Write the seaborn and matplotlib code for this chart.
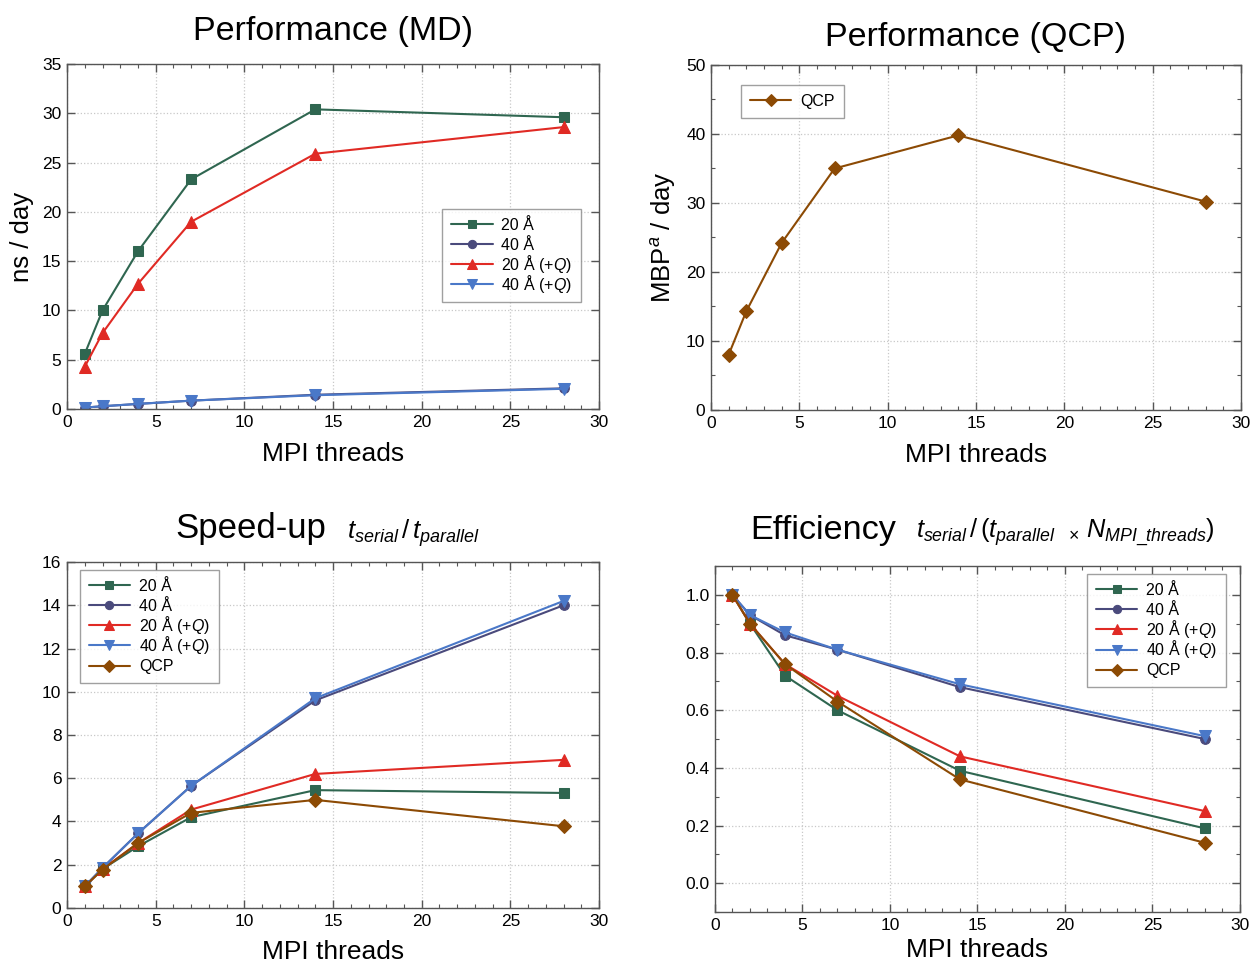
import matplotlib
matplotlib.use("Agg")
import types
import matplotlib.pyplot as plt
import seaborn as sns
import numpy as np
from matplotlib.ticker import MultipleLocator, FormatStrFormatter
from matplotlib.offsetbox import TextArea, OffsetBox
from matplotlib.transforms import Bbox

threads = [1, 2, 4, 7, 14, 28]

# Performance (MD), ns/day
md_20 = [5.6, 10.0, 16.0, 23.3, 30.4, 29.6]
md_40 = [0.15, 0.28, 0.52, 0.85, 1.45, 2.1]
md_20q = [4.3, 7.7, 12.7, 19.0, 25.9, 28.6]
md_40q = [0.15, 0.28, 0.52, 0.85, 1.4, 2.05]

# Performance (QCP), MBP/day
qcp_perf = [8.0, 14.3, 24.2, 35.0, 39.8, 30.2]

# Speed-up
su_20 = [1.0, 1.8, 2.85, 4.2, 5.45, 5.32]
su_40 = [1.0, 1.85, 3.45, 5.65, 9.6, 14.0]
su_20q = [1.0, 1.8, 3.0, 4.55, 6.2, 6.85]
su_40q = [1.0, 1.85, 3.45, 5.65, 9.7, 14.2]
su_qcp = [1.0, 1.78, 3.0, 4.4, 5.0, 3.78]

# Efficiency
ef_20 = [1.0, 0.90, 0.72, 0.60, 0.39, 0.19]
ef_40 = [1.0, 0.93, 0.86, 0.81, 0.68, 0.50]
ef_20q = [1.0, 0.90, 0.76, 0.65, 0.44, 0.25]
ef_40q = [1.0, 0.93, 0.87, 0.81, 0.69, 0.51]
ef_qcp = [1.0, 0.90, 0.76, 0.63, 0.36, 0.14]

labels = ["20 Å", "40 Å", "20 Å (+$Q$)", "40 Å (+$Q$)", "QCP"]
colors = ["#2f6650", "#4a4a7c", "#e02a24", "#4a78c8", "#8c4a04"]
markers = ["s", "o", "^", "v", "D"]
msizes = [7, 7, 8, 8, 7]

sns.set_theme(style="ticks")
plt.rcParams["font.family"] = ["Liberation Sans", "DejaVu Sans"]
plt.rcParams["mathtext.fontset"] = "custom"
plt.rcParams["mathtext.rm"] = "Liberation Sans"
plt.rcParams["mathtext.it"] = "Liberation Sans:italic"
plt.rcParams["mathtext.bf"] = "Liberation Sans:bold"
plt.rcParams["text.color"] = "black"
plt.rcParams["axes.labelcolor"] = "black"

fig = plt.figure(figsize=(12.53, 9.64), dpi=100)

ax1 = fig.add_axes([0.0535, 0.5757, 0.4246, 0.3579])
ax2 = fig.add_axes([0.5674, 0.5747, 0.4230, 0.3579])
ax3 = fig.add_axes([0.0535, 0.0581, 0.4246, 0.3589])
ax4 = fig.add_axes([0.5706, 0.0539, 0.4190, 0.3589])


def draw(ax, series_idx, data):
    for i, y in zip(series_idx, data):
        sns.lineplot(x=threads, y=y, ax=ax, color=colors[i], marker=markers[i],
                     markersize=msizes[i], markeredgecolor=colors[i], linewidth=1.5,
                     label=labels[i], legend=False)


def style(ax, ylim, ymaj, ymin=None, xlabelpad=9):
    ax.set_xlim(0, 30)
    ax.set_ylim(*ylim)
    ax.xaxis.set_major_locator(MultipleLocator(5))
    ax.xaxis.set_minor_locator(MultipleLocator(1))
    ax.yaxis.set_major_locator(MultipleLocator(ymaj))
    if ymin:
        ax.yaxis.set_minor_locator(MultipleLocator(ymin))
    ax.tick_params(which="both", direction="in", top=True, right=True,
                   labelsize=12.5, colors="#555555", labelcolor="black", pad=4)
    ax.tick_params(which="major", length=6, width=1)
    ax.tick_params(which="minor", length=3, width=0.8)
    ax.grid(True, which="major", linestyle=":", color="#c8c8c8", linewidth=0.9)
    for s in ax.spines.values():
        s.set_color("#555555")
        s.set_linewidth(1.0)
    ax.set_xlabel("MPI threads", fontsize=19, labelpad=xlabelpad)


def _fix_textareas(box):
    for c in box.get_children():
        if isinstance(c, TextArea):
            orig = c.get_bbox

            def fixed(self, renderer, _orig=orig):
                bb = _orig(renderer)
                _, h_, d_ = renderer.get_text_width_height_descent(
                    "lp", self._text._fontproperties, ismath=False)
                return Bbox.from_bounds(bb.x0, -d_, bb.width, h_)

            c.get_bbox = types.MethodType(fixed, c)
        elif isinstance(c, OffsetBox):
            _fix_textareas(c)


def legend(ax, loc, anchor):
    leg = ax.legend(loc=loc, bbox_to_anchor=anchor, fontsize=11.5, frameon=True,
                    fancybox=False, edgecolor="#888888", handlelength=2.6,
                    borderpad=0.55, labelspacing=0.32, handletextpad=0.55,
                    borderaxespad=0.0, markerscale=0.85)
    leg.get_frame().set_linewidth(1.0)
    _fix_textareas(leg._legend_box)


# Top-left
draw(ax1, [0, 1, 2, 3], [md_20, md_40, md_20q, md_40q])
style(ax1, (0, 35), 5)
ax1.set_ylabel("ns / day", fontsize=18.5, labelpad=6)
ax1.set_title("Performance (MD)", fontsize=24.5, pad=17)
legend(ax1, "upper right", (0.966, 0.58))

# Top-right
draw(ax2, [4], [qcp_perf])
style(ax2, (0, 50), 10, 5)
ax2.set_ylabel("MBP$^a$ / day", fontsize=18.5, labelpad=6)
ax2.set_title("Performance (QCP)", fontsize=24.5, pad=14)
legend(ax2, "upper left", (0.057, 0.942))

# Bottom-left
draw(ax3, [0, 1, 2, 3, 4], [su_20, su_40, su_20q, su_40q, su_qcp])
style(ax3, (0, 16), 2, xlabelpad=8)
legend(ax3, "upper left", (0.024, 0.977))
ax3.text(0.487, 1.068, "Speed-up", transform=ax3.transAxes, ha="right",
         va="baseline", fontsize=25)
ax3.text(0.526, 1.068, r"$t_{serial}\,/\,t_{parallel}$", transform=ax3.transAxes,
         ha="left", va="baseline", fontsize=18.5)

# Bottom-right
draw(ax4, [0, 1, 2, 3, 4], [ef_20, ef_40, ef_20q, ef_40q, ef_qcp])
style(ax4, (-0.1, 1.1), 0.2, 0.1, xlabelpad=4)
ax4.yaxis.set_major_formatter(FormatStrFormatter("%.1f"))
legend(ax4, "upper right", (0.973, 0.977))
ax4.text(0.345, 1.078, "Efficiency", transform=ax4.transAxes, ha="right",
         va="baseline", fontsize=24.7)
ax4.text(0.383, 1.078,
         r"$t_{serial}\,/\,(t_{parallel}\ \ {}_{\times}\ N_{MPI\_threads})$",
         transform=ax4.transAxes, ha="left", va="baseline", fontsize=18.3)

fig.savefig("out.png", dpi=100, facecolor="white")
